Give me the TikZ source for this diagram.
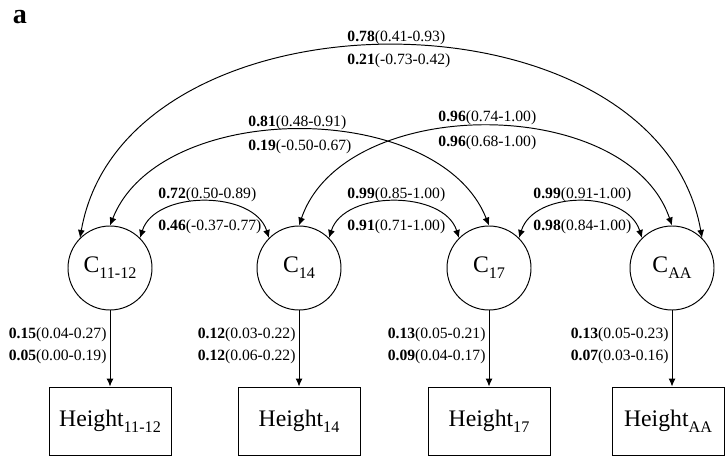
\documentclass[tikz,border=0pt]{standalone}
\usepackage{fontspec}
\setmainfont{Liberation Serif}
\usetikzlibrary{arrows.meta}
\newcommand{\coefval}[2]{\textbf{#1}(#2)}
\newcommand{\lowsub}[1]{\raisebox{-3.4pt}{\fontsize{9.2}{11}\selectfont #1}}

\begin{document}
\begin{tikzpicture}[>={Latex[length=1.6mm,width=1.4mm]}, line width=0.55pt,
    latent/.style={draw, circle, minimum size=1.68cm, inner sep=0pt,
      font=\fontsize{13.5}{15}\selectfont},
    observed/.style={draw, rectangle, minimum width=2.44cm, minimum height=1.36cm,
      inner sep=0pt, font=\fontsize{13.5}{15}\selectfont},
    coef/.style={inner sep=0pt, font=\fontsize{8.9}{10}\selectfont}
    ]

    \useasboundingbox (0, 0) rectangle (14.5, 9.12);

    \node[font=\fontsize{16}{18}\selectfont\bfseries] (panel) at (0.4, 8.78) {a};

    \node[latent] (c1112) at (2.2, 3.76) {C\lowsub{11-12}};
    \node[latent] (c14) at (5.98, 3.76) {C\lowsub{14}};
    \node[latent] (c17) at (9.78, 3.76) {C\lowsub{17}};
    \node[latent] (caa) at (13.44, 3.76) {C\lowsub{AA}};

    \node[observed] (h1112) at (2.2, 0.7) {Height\lowsub{11-12}};
    \node[observed] (h14) at (5.98, 0.7) {Height\lowsub{14}};
    \node[observed] (h17) at (9.78, 0.7) {Height\lowsub{17}};
    \node[observed, minimum width=2.24cm] (haa) at (13.36, 0.7) {Height\lowsub{AA}};

    \draw[<->] (c1112.135) .. controls +(0.9, 5.12) and +(-0.9, 5.12) .. (caa.45);
    \node[coef, anchor=west] (r1112aa) at (6.94, 8.36) {\coefval{0.78}{0.41-0.93}};
    \node[coef, anchor=west] (e1112aa) at (6.94, 7.90) {\coefval{0.21}{-0.73-0.42}};

    \draw[<->] (c1112.90) .. controls +(1.0, 2.54) and +(-1.0, 2.54) .. (c17.90);
    \node[coef, anchor=west] (r111217) at (4.96, 6.66) {\coefval{0.81}{0.48-0.91}};
    \node[coef, anchor=west] (e111217) at (4.96, 6.18) {\coefval{0.19}{-0.50-0.67}};

    \draw[<->] (c14.90) .. controls +(0.9, 2.64) and +(-0.9, 2.64) .. (caa.90);
    \node[coef, anchor=west] (r14aa) at (8.76, 6.76) {\coefval{0.96}{0.74-1.00}};
    \node[coef, anchor=west] (e14aa) at (8.76, 6.26) {\coefval{0.96}{0.68-1.00}};

    \draw[<->] (c1112.45) .. controls +(0.3, 0.96) and +(-0.3, 0.96) .. (c14.135);
    \node[coef, anchor=west] (r111214) at (3.16, 5.22) {\coefval{0.72}{0.50-0.89}};
    \node[coef, anchor=west] (e111214) at (3.16, 4.58) {\coefval{0.46}{-0.37-0.77}};

    \draw[<->] (c14.45) .. controls +(0.3, 0.96) and +(-0.3, 0.96) .. (c17.135);
    \node[coef, anchor=west] (r1417) at (6.94, 5.22) {\coefval{0.99}{0.85-1.00}};
    \node[coef, anchor=west] (e1417) at (6.94, 4.58) {\coefval{0.91}{0.71-1.00}};

    \draw[<->] (c17.45) .. controls +(0.3, 0.96) and +(-0.3, 0.96) .. (caa.135);
    \node[coef, anchor=west] (r17aa) at (10.66, 5.22) {\coefval{0.99}{0.91-1.00}};
    \node[coef, anchor=west] (e17aa) at (10.66, 4.58) {\coefval{0.98}{0.84-1.00}};

    \draw[->] (c1112.south) -- (c1112.south |- h1112.north);
    \node[coef, anchor=east] (a1112) at (2.14, 2.42) {\coefval{0.15}{0.04-0.27}};
    \node[coef, anchor=east] (v1112) at (2.14, 1.98) {\coefval{0.05}{0.00-0.19}};

    \draw[->] (c14.south) -- (c14.south |- h14.north);
    \node[coef, anchor=east] (a14) at (5.92, 2.42) {\coefval{0.12}{0.03-0.22}};
    \node[coef, anchor=east] (v14) at (5.92, 1.98) {\coefval{0.12}{0.06-0.22}};

    \draw[->] (c17.south) -- (c17.south |- h17.north);
    \node[coef, anchor=east] (a17) at (9.72, 2.42) {\coefval{0.13}{0.05-0.21}};
    \node[coef, anchor=east] (v17) at (9.72, 1.98) {\coefval{0.09}{0.04-0.17}};

    \draw[->] (caa.south) -- (caa.south |- haa.north);
    \node[coef, anchor=east] (aaa) at (13.38, 2.42) {\coefval{0.13}{0.05-0.23}};
    \node[coef, anchor=east] (vaa) at (13.38, 1.98) {\coefval{0.07}{0.03-0.16}};

\end{tikzpicture}
\end{document}
